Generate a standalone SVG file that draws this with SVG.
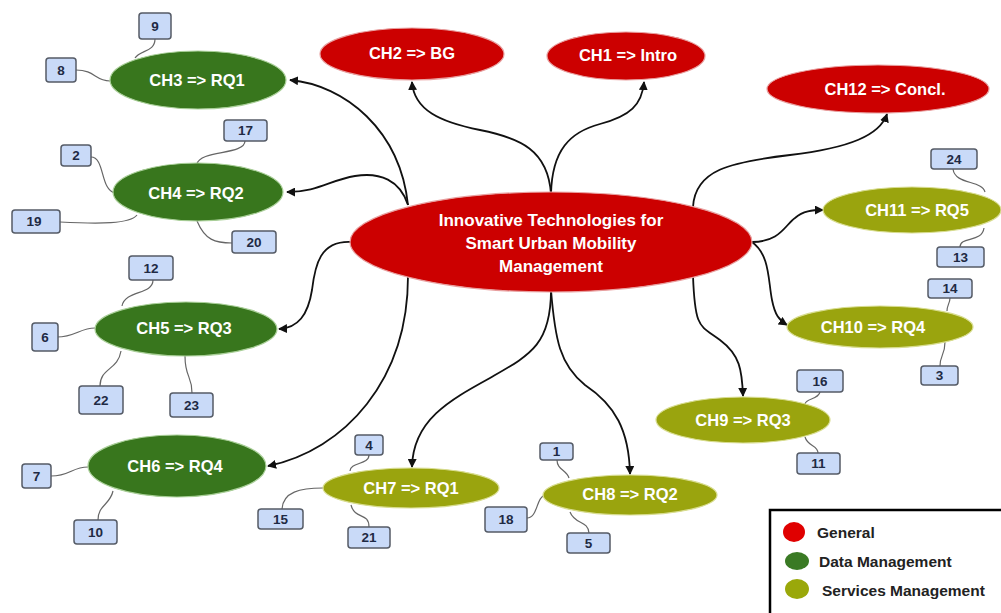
<svg xmlns="http://www.w3.org/2000/svg" width="1001" height="613" viewBox="0 0 1001 613">
  <style>
    .lbl { font-family: "Liberation Sans", Arial, sans-serif; font-weight: bold; fill: #ffffff; text-anchor: middle; dominant-baseline: central; }
    .gen { fill: #cc0000; stroke: #e8a0a0; stroke-width: 1.2; }
    .data { fill: #38761d; stroke: #a9cf98; stroke-width: 1.2; }
    .serv { fill: #9aa40e; stroke: #d8dd90; stroke-width: 1.2; }
    .num rect { fill: #c9daf8; stroke: #555b66; stroke-width: 1.5; }
    .num text { font-family: "Liberation Sans", Arial, sans-serif; font-weight: bold; font-size: 13.5px; fill: #1f2a44; text-anchor: middle; dominant-baseline: central; }
    .arrow { fill: none; stroke: #111; stroke-width: 1.8; marker-end: url(#head); }
    .link { fill: none; stroke: #666; stroke-width: 1.2; }
    .legend text { font-family: "Liberation Sans", Arial, sans-serif; font-weight: bold; font-size: 15.5px; fill: #222; dominant-baseline: central; }
  </style>
  <defs>
    <marker id="head" viewBox="0 0 10 10" refX="9" refY="5" markerWidth="5" markerHeight="5" orient="auto" markerUnits="strokeWidth">
      <path d="M0,0 L10,5 L0,10 Z" fill="#111"/>
    </marker>
  </defs>

  <rect width="1001" height="613" fill="#ffffff"/>

  <!-- arrows from the central topic to each chapter -->
  <g id="connectors">
    <path class="arrow" d="M408,205 C400,130 345,85 290,80"/>
    <path class="arrow" d="M408,205 C400,180 380,172 355,176 C330,180 318,192 287,192"/>
    <path class="arrow" d="M352,242 C320,240 315,265 312,290 C308,315 298,328 279,329"/>
    <path class="arrow" d="M408,276 C408,380 345,450 268,466"/>
    <path class="arrow" d="M551,290 C551,345 530,355 490,378 C450,400 413,420 412,467"/>
    <path class="arrow" d="M551,290 C555,340 560,365 585,385 C615,405 629,430 630,474"/>
    <path class="arrow" d="M693,276 C695,330 700,325 720,340 C740,355 742,370 743,396"/>
    <path class="arrow" d="M752,242 C770,255 768,280 772,300 C775,315 779,320 787,325"/>
    <path class="arrow" d="M752,242 C780,242 785,225 795,218 C803,211 812,210 823,210"/>
    <path class="arrow" d="M693,207 C695,170 730,162 790,155 C850,148 880,135 887,114"/>
    <path class="arrow" d="M551,194 C548,150 520,138 480,130 C440,122 414,110 412,82"/>
    <path class="arrow" d="M551,194 C552,150 570,132 600,124 C630,116 642,105 644,82"/>

    <!-- thin links from chapters to numbered items -->
    <path class="link" d="M135,58 C140,50 155,52 155,39"/>
    <path class="link" d="M76,70 C95,70 95,81 110,81"/>
    <path class="link" d="M245,141 C245,155 200,150 197,164"/>
    <path class="link" d="M91,157 C105,157 100,190 115,193"/>
    <path class="link" d="M60,222 C100,224 130,224 137,215"/>
    <path class="link" d="M197,221 C205,240 215,243 232,243"/>
    <path class="link" d="M153,280 C153,295 125,290 122,306"/>
    <path class="link" d="M57,337 C75,337 80,328 95,328"/>
    <path class="link" d="M121,351 C118,370 100,368 100,386"/>
    <path class="link" d="M185,356 C185,378 192,375 192,393"/>
    <path class="link" d="M51,476 C70,476 72,467 88,467"/>
    <path class="link" d="M113,491 C110,505 98,505 98,520"/>
    <path class="link" d="M369,455 C369,465 350,462 350,471"/>
    <path class="link" d="M323,488 C300,488 283,492 282,509"/>
    <path class="link" d="M351,505 C355,520 369,512 369,527"/>
    <path class="link" d="M557,460 C557,470 567,470 569,478"/>
    <path class="link" d="M527,518 C538,518 536,497 545,495"/>
    <path class="link" d="M570,512 C575,525 588,520 589,533"/>
    <path class="link" d="M820,392 C818,400 806,398 805,404"/>
    <path class="link" d="M805,437 C808,447 818,445 818,453"/>
    <path class="link" d="M953,169 C955,185 982,180 985,192"/>
    <path class="link" d="M984,228 C982,243 960,236 960,247"/>
    <path class="link" d="M950,298 C950,303 947,305 947,311"/>
    <path class="link" d="M945,342 C945,355 940,355 940,366"/>
  </g>

  <!-- central topic -->
  <g id="center">
    <ellipse class="gen" cx="551" cy="242" rx="201" ry="50"/>
    <text class="lbl" font-size="17" x="551" y="220">Innovative Technologies for</text>
    <text class="lbl" font-size="17" x="551" y="243">Smart Urban Mobility</text>
    <text class="lbl" font-size="17" x="551" y="266">Management</text>
  </g>

  <!-- general chapters -->
  <g id="ch2"><ellipse class="gen" cx="412" cy="54" rx="92" ry="26"/><text class="lbl" font-size="16.5" x="412" y="53">CH2 =&gt; BG</text></g>
  <g id="ch1"><ellipse class="gen" cx="626" cy="56" rx="79" ry="24"/><text class="lbl" font-size="16.5" x="628" y="55">CH1 =&gt; Intro</text></g>
  <g id="ch12"><ellipse class="gen" cx="878" cy="89" rx="111" ry="24"/><text class="lbl" font-size="16.5" x="885" y="89">CH12 =&gt; Concl.</text></g>

  <!-- data management chapters -->
  <g id="ch3"><ellipse class="data" cx="198" cy="80" rx="88" ry="29"/><text class="lbl" font-size="16.5" x="197" y="80">CH3 =&gt; RQ1</text></g>
  <g id="ch4"><ellipse class="data" cx="198" cy="192" rx="85" ry="29"/><text class="lbl" font-size="16.5" x="196" y="193">CH4 =&gt; RQ2</text></g>
  <g id="ch5"><ellipse class="data" cx="186" cy="329" rx="91" ry="27"/><text class="lbl" font-size="16.5" x="184" y="328">CH5 =&gt; RQ3</text></g>
  <g id="ch6"><ellipse class="data" cx="177" cy="466" rx="89" ry="31"/><text class="lbl" font-size="16.5" x="175" y="466">CH6 =&gt; RQ4</text></g>

  <!-- services management chapters -->
  <g id="ch7"><ellipse class="serv" cx="411" cy="488" rx="88" ry="20"/><text class="lbl" font-size="16.5" x="411" y="488">CH7 =&gt; RQ1</text></g>
  <g id="ch8"><ellipse class="serv" cx="630" cy="495" rx="87" ry="20"/><text class="lbl" font-size="16.5" x="630" y="494">CH8 =&gt; RQ2</text></g>
  <g id="ch9"><ellipse class="serv" cx="743" cy="420" rx="87" ry="23"/><text class="lbl" font-size="16.5" x="743" y="420">CH9 =&gt; RQ3</text></g>
  <g id="ch10"><ellipse class="serv" cx="880" cy="327" rx="93" ry="21"/><text class="lbl" font-size="16.5" x="873" y="327">CH10 =&gt; RQ4</text></g>
  <g id="ch11"><ellipse class="serv" cx="912" cy="210" rx="89" ry="23"/><text class="lbl" font-size="16.5" x="917" y="210">CH11 =&gt; RQ5</text></g>

  <!-- numbered items -->
  <g id="n9" class="num"><rect x="139" y="13" width="32" height="26" rx="3"/><text x="155" y="26">9</text></g>
  <g id="n8" class="num"><rect x="46" y="58" width="30" height="24" rx="3"/><text x="61" y="70">8</text></g>
  <g id="n17" class="num"><rect x="224" y="120" width="43" height="21" rx="3"/><text x="245.5" y="130.5">17</text></g>
  <g id="n2" class="num"><rect x="61" y="145" width="30" height="21" rx="3"/><text x="76" y="155.5">2</text></g>
  <g id="n19" class="num"><rect x="12" y="210" width="48" height="23" rx="3"/><text x="34" y="221.5">19</text></g>
  <g id="n20" class="num"><rect x="232" y="231" width="44" height="22" rx="3"/><text x="254" y="242">20</text></g>
  <g id="n12" class="num"><rect x="129" y="256" width="44" height="24" rx="3"/><text x="151" y="268">12</text></g>
  <g id="n6" class="num"><rect x="32" y="323" width="26" height="28" rx="3"/><text x="45" y="337">6</text></g>
  <g id="n22" class="num"><rect x="79" y="386" width="44" height="28" rx="3"/><text x="101" y="400">22</text></g>
  <g id="n23" class="num"><rect x="170" y="393" width="43" height="24" rx="3"/><text x="191.5" y="405">23</text></g>
  <g id="n7" class="num"><rect x="22" y="464" width="29" height="24" rx="3"/><text x="36.5" y="476">7</text></g>
  <g id="n10" class="num"><rect x="74" y="520" width="43" height="24" rx="3"/><text x="95.5" y="532">10</text></g>
  <g id="n4" class="num"><rect x="355" y="435" width="28" height="20" rx="3"/><text x="369" y="445">4</text></g>
  <g id="n15" class="num"><rect x="258" y="509" width="45" height="20" rx="3"/><text x="280.5" y="519">15</text></g>
  <g id="n21" class="num"><rect x="348" y="527" width="42" height="21" rx="3"/><text x="369" y="537.5">21</text></g>
  <g id="n1" class="num"><rect x="540" y="443" width="33" height="17" rx="3"/><text x="556.5" y="451.5">1</text></g>
  <g id="n18" class="num"><rect x="485" y="507" width="42" height="25" rx="3"/><text x="506" y="519.5">18</text></g>
  <g id="n5" class="num"><rect x="567" y="533" width="43" height="20" rx="3"/><text x="588.5" y="543">5</text></g>
  <g id="n16" class="num"><rect x="797" y="370" width="46" height="22" rx="3"/><text x="820" y="381">16</text></g>
  <g id="n11" class="num"><rect x="797" y="453" width="43" height="21" rx="3"/><text x="818.5" y="463.5">11</text></g>
  <g id="n24" class="num"><rect x="931" y="149" width="46" height="20" rx="3"/><text x="954" y="159">24</text></g>
  <g id="n13" class="num"><rect x="937" y="247" width="47" height="20" rx="3"/><text x="960.5" y="257">13</text></g>
  <g id="n14" class="num"><rect x="928" y="279" width="44" height="19" rx="3"/><text x="950" y="288.5">14</text></g>
  <g id="n3" class="num"><rect x="921" y="366" width="37" height="19" rx="3"/><text x="939.5" y="375.5">3</text></g>

  <!-- legend -->
  <g id="legend" class="legend">
    <rect x="770" y="510" width="240" height="120" fill="#ffffff" stroke="#000" stroke-width="2.5"/>
    <ellipse cx="794" cy="532" rx="11" ry="10" fill="#e00000"/>
    <ellipse cx="797" cy="561" rx="12" ry="9" fill="#3a7a24"/>
    <ellipse cx="797" cy="589" rx="12" ry="10" fill="#9aa80a"/>
    <text x="817" y="532">General</text>
    <text x="819" y="561">Data Management</text>
    <text x="822" y="590">Services Management</text>
  </g>
</svg>
